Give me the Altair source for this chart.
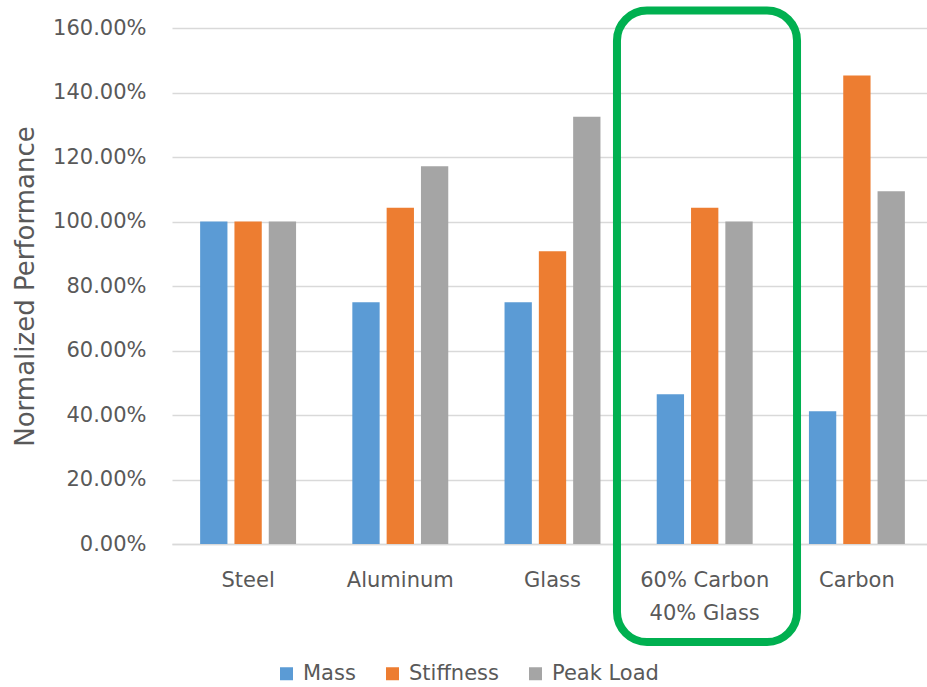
import altair as alt
import pandas as pd

# Materials compared and the three normalized metrics (fractions of steel)
materials = ["Steel", "Aluminum", "Glass", "60% Carbon\n40% Glass", "Carbon"]
metrics = ["Mass", "Stiffness", "Peak Load"]
mass = [1.00, 0.75, 0.75, 0.464, 0.412]
stiffness = [1.00, 1.043, 0.908, 1.043, 1.453]
peak_load = [1.00, 1.171, 1.325, 1.00, 1.094]
colors = ["#5B9BD5", "#ED7D31", "#A5A5A5"]

# Highlighted material and the vertical extent of its frame (data units)
highlight = "60% Carbon\n40% Glass"
frame_low, frame_high = -0.304, 1.654

rows = []
for i, m in enumerate(materials):
    for metric, series in zip(metrics, [mass, stiffness, peak_load]):
        rows.append({"material": m, "metric": metric, "value": series[i]})
df = pd.DataFrame(rows)
frame_df = pd.DataFrame([{"material": highlight, "lo": frame_low, "hi": frame_high}])

TEXT = "#595959"

x_enc = alt.X(
    "material:N",
    sort=materials,
    title=None,
    scale=alt.Scale(range=[0, 761], paddingInner=0, paddingOuter=0),
    axis=alt.Axis(
        labelAngle=0,
        labelFontSize=21,
        labelColor=TEXT,
        labelPadding=25,
        labelLineHeight=33,
        labelExpr="split(datum.label, '\\n')",
        domain=True,
        domainColor="#D9D9D9",
        domainWidth=1.3,
        ticks=False,
    ),
)
y_scale = alt.Scale(domain=[0, 1.6], nice=False, zero=True)

bars = alt.Chart(df).mark_bar().encode(
    x=x_enc,
    xOffset=alt.XOffset(
        "metric:N",
        sort=metrics,
        scale=alt.Scale(paddingInner=0.204, paddingOuter=0.82),
    ),
    y=alt.Y(
        "value:Q",
        scale=y_scale,
        title="Normalized Performance",
        axis=alt.Axis(
            values=[0, 0.2, 0.4, 0.6, 0.8, 1.0, 1.2, 1.4, 1.6],
            format=".2%",
            labelFontSize=21,
            labelColor=TEXT,
            labelPadding=26,
            titleFontSize=26,
            titleFontWeight="normal",
            titleColor=TEXT,
            titlePadding=14,
            domain=False,
            ticks=False,
            grid=True,
            gridColor="#D9D9D9",
            gridWidth=1.3,
        ),
    ),
    color=alt.Color(
        "metric:N",
        sort=metrics,
        scale=alt.Scale(domain=metrics, range=colors),
        legend=alt.Legend(
            title=None,
            orient="none",
            direction="horizontal",
            legendX=104,
            legendY=635,
            symbolType="square",
            symbolSize=169,
            symbolStrokeWidth=0,
            labelFontSize=21,
            labelColor=TEXT,
            labelOffset=6,
            columnPadding=26,
            padding=0,
        ),
    ),
)

# Rounded green frame around the highlighted material
frame = alt.Chart(frame_df).mark_rect(
    filled=False,
    stroke="#00B050",
    strokeWidth=8,
    cornerRadius=30,
    width={"band": 1.183},
    xOffset=2.3,
).encode(
    x=alt.X("material:N", sort=materials),
    y=alt.Y("lo:Q", scale=y_scale),
    y2="hi:Q",
)

chart = (
    alt.layer(bars, frame)
    .properties(
        width=755,
        height=516,
        padding={"left": 172, "top": 28, "right": 0, "bottom": 143},
        autosize=alt.AutoSizeParams(type="none"),
    )
    .configure(font="DejaVu Sans")
    .configure_view(stroke=None)
)

chart.save("out.html", embed_options={"renderer": "svg", "actions": False})
